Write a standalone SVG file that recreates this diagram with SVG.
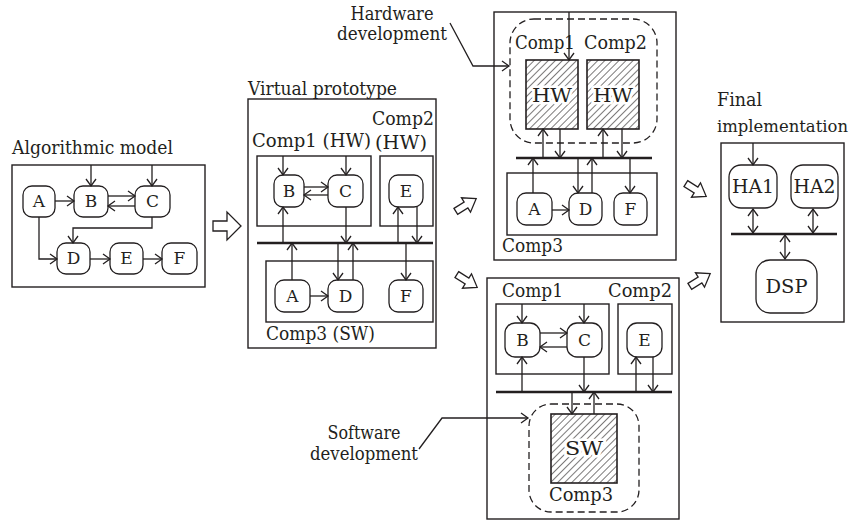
<svg xmlns="http://www.w3.org/2000/svg" xmlns:xlink="http://www.w3.org/1999/xlink" width="855" height="522" viewBox="0 0 855 522">
<style>
.t{font-family:"DejaVu Serif","Liberation Serif",serif;font-size:18px;fill:#231f20}
.n{font-family:"DejaVu Serif","Liberation Serif",serif;font-size:17px;fill:#231f20;text-anchor:middle}
.box{fill:none;stroke:#231f20;stroke-width:1.4}
.node{fill:#fff;stroke:#231f20;stroke-width:1.3}
.dash{fill:none;stroke:#231f20;stroke-width:1.3;stroke-dasharray:7 4}
.bus{stroke:#231f20;stroke-width:2.6}
.hatch{fill:url(#hp);stroke:#231f20;stroke-width:1.6}
.halo{paint-order:stroke;stroke:#fff;stroke-width:5px;stroke-linejoin:round}
.blk{fill:#fff;stroke:#231f20;stroke-width:1.3;stroke-linejoin:miter}
#conn path{fill:none;stroke:#231f20;stroke-width:1.3}
.a{marker-end:url(#ah)}
.d{marker-end:url(#ah);marker-start:url(#ah)}
</style>
<defs>
<marker id="ah" markerUnits="userSpaceOnUse" markerWidth="14" markerHeight="14" refX="0" refY="0" viewBox="-8 -7 10 14" orient="auto-start-reverse">
<path d="M-7,-5 L0,0 L-7,5" fill="none" stroke="#231f20" stroke-width="1.3"/>
</marker>
<pattern id="hp" width="5" height="5" patternUnits="userSpaceOnUse" patternTransform="rotate(45)">
<rect width="5" height="5" fill="#fff"/>
<line x1="0" y1="0" x2="0" y2="5" stroke="#231f20" stroke-width="1.2"/>
</pattern>
<path id="bigblk" d="M-14,-5 L0,-5 L0,-14 L14,0 L0,14 L0,5 L-14,5 Z"/>
<path id="smblk" d="M-12,-3.5 L0,-3.5 L0,-8.5 L12,0 L0,8.5 L0,3.5 L-12,3.5 Z"/>
</defs>
<rect width="855" height="522" fill="#fff"/>

<!-- Algorithmic model -->
<g id="algorithmic">
<text class="t" x="12" y="154" textLength="161" lengthAdjust="spacingAndGlyphs">Algorithmic model</text>
<rect class="box" x="12" y="165" width="193" height="122"/>
</g>
<g id="alg-A"><rect class="node" x="23" y="186" width="32" height="31" rx="9"/><text class="n" x="39" y="207">A</text></g>
<g id="alg-B"><rect class="node" x="74" y="186" width="34" height="31" rx="9"/><text class="n" x="91" y="207">B</text></g>
<g id="alg-C"><rect class="node" x="135" y="186" width="35" height="31" rx="9"/><text class="n" x="152.5" y="207">C</text></g>
<g id="alg-D"><rect class="node" x="57" y="243" width="33" height="31" rx="9"/><text class="n" x="73.5" y="264">D</text></g>
<g id="alg-E"><rect class="node" x="110" y="243" width="33" height="31" rx="9"/><text class="n" x="126.5" y="264">E</text></g>
<g id="alg-F"><rect class="node" x="162" y="243" width="35" height="31" rx="9"/><text class="n" x="179.5" y="264">F</text></g>

<!-- Virtual prototype -->
<g id="virtual-prototype">
<text class="t" x="248" y="95" textLength="149" lengthAdjust="spacingAndGlyphs">Virtual prototype</text>
<rect class="box" x="248" y="99" width="188" height="249"/>
<text class="t" x="434" y="125" text-anchor="end" textLength="62" lengthAdjust="spacingAndGlyphs">Comp2</text>
<text class="t" x="375" y="149" textLength="52" lengthAdjust="spacingAndGlyphs">(HW)</text>
<text class="t" x="252" y="147" textLength="119" lengthAdjust="spacingAndGlyphs">Comp1 (HW)</text>
<rect class="box" x="257" y="156" width="114" height="70"/>
<rect class="box" x="380" y="156" width="53" height="70"/>
<line class="bus" x1="257" y1="243" x2="433" y2="243"/>
<rect class="box" x="266" y="261" width="167" height="61"/>
<text class="t" x="266" y="340" textLength="109" lengthAdjust="spacingAndGlyphs">Comp3 (SW)</text>
</g>
<g id="vp-B"><rect class="node" x="274" y="175" width="30" height="32" rx="9"/><text class="n" x="289" y="197">B</text></g>
<g id="vp-C"><rect class="node" x="328" y="175" width="35" height="32" rx="9"/><text class="n" x="345.5" y="197">C</text></g>
<g id="vp-E"><rect class="node" x="389" y="175" width="34" height="32" rx="9"/><text class="n" x="406" y="197">E</text></g>
<g id="vp-A"><rect class="node" x="275" y="280" width="35" height="32" rx="9"/><text class="n" x="292.5" y="302">A</text></g>
<g id="vp-D"><rect class="node" x="328" y="280" width="35" height="32" rx="9"/><text class="n" x="345.5" y="302">D</text></g>
<g id="vp-F"><rect class="node" x="389" y="280" width="34" height="32" rx="9"/><text class="n" x="406" y="302">F</text></g>

<!-- Hardware development -->
<g id="hw-label">
<text class="t" x="392" y="20" text-anchor="middle" textLength="83" lengthAdjust="spacingAndGlyphs">Hardware</text>
<text class="t" x="392" y="40" text-anchor="middle" textLength="110" lengthAdjust="spacingAndGlyphs">development</text>
</g>
<g id="hw-version">
<rect class="box" x="494" y="12" width="182" height="248"/>
<rect class="dash" x="510" y="19" width="147" height="124" rx="24"/>
<text class="t" x="515" y="49" textLength="60" lengthAdjust="spacingAndGlyphs">Comp1</text>
<text class="t" x="584" y="49" textLength="63" lengthAdjust="spacingAndGlyphs">Comp2</text>
<line class="bus" x1="516" y1="158" x2="652" y2="158"/>
<rect class="box" x="507" y="173" width="150" height="62"/>
<text class="t" x="502" y="252" textLength="61" lengthAdjust="spacingAndGlyphs">Comp3</text>
</g>
<g id="hw-HW1"><rect class="hatch" x="526" y="60" width="52" height="69"/><text class="t halo" x="552" y="102" text-anchor="middle" textLength="40" lengthAdjust="spacingAndGlyphs">HW</text></g>
<g id="hw-HW2"><rect class="hatch" x="587" y="60" width="52" height="69"/><text class="t halo" x="613" y="102" text-anchor="middle" textLength="40" lengthAdjust="spacingAndGlyphs">HW</text></g>
<g id="hw-A"><rect class="node" x="517" y="193" width="35" height="32" rx="9"/><text class="n" x="534.5" y="215">A</text></g>
<g id="hw-D"><rect class="node" x="569" y="193" width="33" height="32" rx="9"/><text class="n" x="585.5" y="215">D</text></g>
<g id="hw-F"><rect class="node" x="614" y="193" width="33" height="32" rx="9"/><text class="n" x="630.5" y="215">F</text></g>

<!-- Software development -->
<g id="sw-label">
<text class="t" x="364" y="439" text-anchor="middle" textLength="73" lengthAdjust="spacingAndGlyphs">Software</text>
<text class="t" x="364" y="460" text-anchor="middle" textLength="108" lengthAdjust="spacingAndGlyphs">development</text>
</g>
<g id="sw-version">
<rect class="box" x="487" y="278" width="192" height="241"/>
<text class="t" x="502" y="297" textLength="61" lengthAdjust="spacingAndGlyphs">Comp1</text>
<text class="t" x="608" y="297" textLength="64" lengthAdjust="spacingAndGlyphs">Comp2</text>
<rect class="box" x="496" y="304" width="113" height="70"/>
<rect class="box" x="618" y="304" width="54" height="70"/>
<line class="bus" x1="496" y1="392" x2="672" y2="392"/>
<rect class="dash" x="529" y="404" width="110" height="108" rx="22"/>
<text class="t" x="549" y="501" textLength="64" lengthAdjust="spacingAndGlyphs">Comp3</text>
</g>
<g id="sw-B"><rect class="node" x="505" y="323" width="35" height="34" rx="10"/><text class="n" x="522.5" y="346">B</text></g>
<g id="sw-C"><rect class="node" x="567" y="323" width="35" height="34" rx="10"/><text class="n" x="584.5" y="346">C</text></g>
<g id="sw-E"><rect class="node" x="627" y="323" width="35" height="34" rx="10"/><text class="n" x="644.5" y="346">E</text></g>
<g id="sw-SW"><rect class="hatch" x="551" y="414" width="66" height="69"/><text class="t halo" x="584" y="455" text-anchor="middle" textLength="38" lengthAdjust="spacingAndGlyphs">SW</text></g>

<!-- Final implementation -->
<g id="final">
<text class="t" x="717" y="106" textLength="45" lengthAdjust="spacingAndGlyphs">Final</text>
<text class="t" x="717" y="132" style="font-size:16px" textLength="131" lengthAdjust="spacingAndGlyphs">implementation</text>
<rect class="box" x="721" y="143" width="123" height="179"/>
<line class="bus" x1="731" y1="234" x2="837" y2="234"/>
</g>
<g id="fin-HA1"><rect class="node" x="729" y="165" width="48" height="43" rx="12"/><text class="t" x="753" y="193" text-anchor="middle" textLength="42" lengthAdjust="spacingAndGlyphs">HA1</text></g>
<g id="fin-HA2"><rect class="node" x="791" y="165" width="47" height="43" rx="12"/><text class="t" x="814.5" y="193" text-anchor="middle" textLength="42" lengthAdjust="spacingAndGlyphs">HA2</text></g>
<g id="fin-DSP"><rect class="node" x="756" y="260" width="61" height="53" rx="14"/><text class="t" x="786.5" y="293" text-anchor="middle" textLength="42" lengthAdjust="spacingAndGlyphs">DSP</text></g>

<!-- Connectors -->
<g id="conn">
<path class="a" d="M55,201 L74,201"/>
<path class="a" d="M91,165 L91,186"/>
<path class="a" d="M152,165 L152,186"/>
<path class="a" d="M108,196 L135,196"/>
<path class="a" d="M135,206 L108,206"/>
<path class="a" d="M152,217 L152,228 L73,228 L73,243"/>
<path class="a" d="M39,217 L39,259 L57,259"/>
<path class="a" d="M90,259 L110,259"/>
<path class="a" d="M143,259 L162,259"/>
<path class="a" d="M283,156 L283,175"/>
<path class="a" d="M346,156 L346,175"/>
<path class="a" d="M304,187 L328,187"/>
<path class="a" d="M328,195 L304,195"/>
<path class="a" d="M283,243 L283,207"/>
<path class="a" d="M346,207 L346,243"/>
<path class="a" d="M398,243 L398,207"/>
<path class="a" d="M417,207 L417,243"/>
<path class="a" d="M292,280 L292,243"/>
<path class="a" d="M338,243 L338,280"/>
<path class="a" d="M353,280 L353,243"/>
<path class="a" d="M406,243 L406,280"/>
<path class="a" d="M310,296 L328,296"/>
<path class="a" d="M450,23 L473,66 L509,66"/>
<path class="a" d="M569,12 L569,60"/>
<path class="a" d="M543,158 L543,129"/>
<path class="a" d="M560,129 L560,158"/>
<path class="a" d="M603,158 L603,129"/>
<path class="a" d="M622,129 L622,158"/>
<path class="a" d="M533,193 L533,158"/>
<path class="a" d="M578,158 L578,193"/>
<path class="a" d="M592,193 L592,158"/>
<path class="a" d="M630,158 L630,193"/>
<path class="a" d="M552,210 L569,210"/>
<path class="a" d="M419,449 L442,418 L528,418"/>
<path class="a" d="M522,304 L522,323"/>
<path class="a" d="M584,304 L584,323"/>
<path class="a" d="M540,333 L567,333"/>
<path class="a" d="M567,347 L540,347"/>
<path class="a" d="M522,392 L522,357"/>
<path class="a" d="M584,357 L584,392"/>
<path class="a" d="M636,392 L636,357"/>
<path class="a" d="M653,357 L653,392"/>
<path class="a" d="M572,392 L572,414"/>
<path class="a" d="M594,414 L594,392"/>
<path class="a" d="M753,143 L753,165"/>
<path class="d" d="M753,209 L753,233"/>
<path class="d" d="M813,209 L813,233"/>
<path class="d" d="M785,235 L785,259"/>
<use href="#bigblk" class="blk" transform="translate(227,226)"/>
<use href="#smblk" class="blk" transform="translate(466,205) rotate(-32)"/>
<use href="#smblk" class="blk" transform="translate(467,281) rotate(32)"/>
<use href="#smblk" class="blk" transform="translate(696,190) rotate(32)"/>
<use href="#smblk" class="blk" transform="translate(700,280) rotate(-32)"/>
</g>
</svg>
